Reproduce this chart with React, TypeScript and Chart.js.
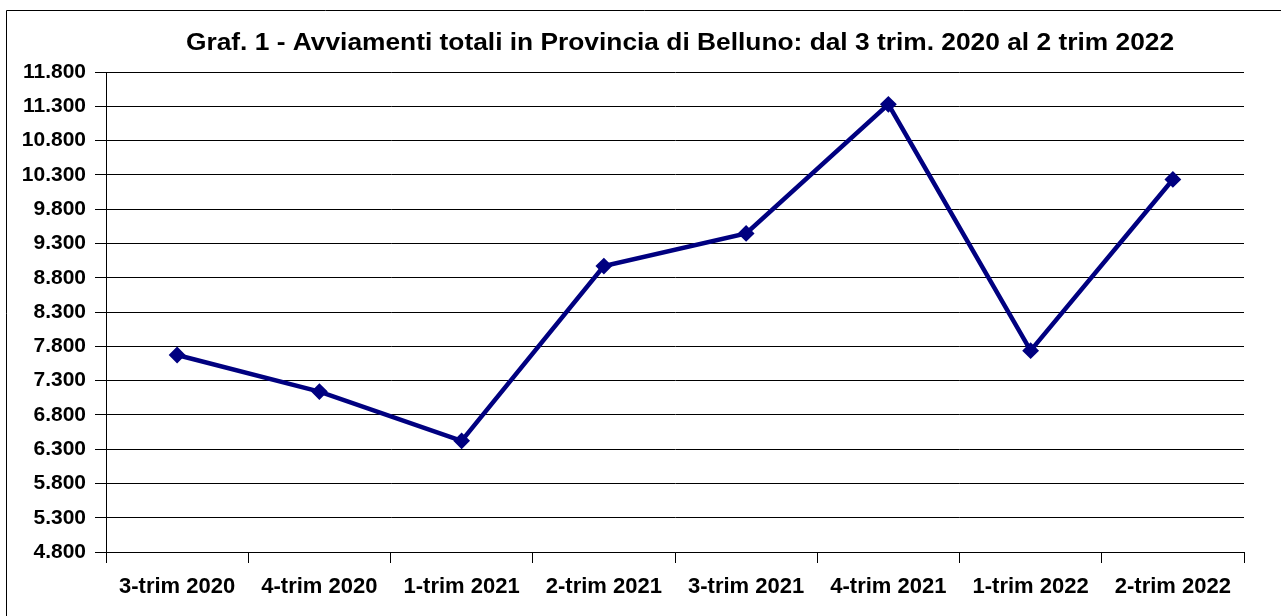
import React, { useEffect, useRef } from "react";
import { Chart, registerables } from "chart.js";

Chart.register(...registerables);

const TITLE = "Graf. 1 - Avviamenti totali in Provincia di Belluno: dal 3 trim. 2020 al 2 trim 2022";
const categories = [
  "3-trim 2020",
  "4-trim 2020",
  "1-trim 2021",
  "2-trim 2021",
  "3-trim 2021",
  "4-trim 2021",
  "1-trim 2022",
  "2-trim 2022",
];
const avviamenti = [7673, 7139, 6421, 8970, 9446, 11329, 7736, 10233];
const Y_MIN = 4800;
const Y_MAX = 11800;
const Y_STEP = 500;

const FONT = "'Liberation Sans', Arial, Helvetica, sans-serif";

function fmt(v: number): string {
  const th = Math.floor(v / 1000);
  const rest = String(Math.round(v % 1000)).padStart(3, "0");
  return th > 0 ? `${th}.${rest}` : String(Math.round(v));
}

const framePlugin = {
  id: "frame",
  afterDraw(chart: any) {
    const ctx = chart.ctx;
    ctx.save();
    ctx.strokeStyle = "#000";
    ctx.lineWidth = 1;
    ctx.beginPath();
    ctx.moveTo(6.5, 700);
    ctx.lineTo(6.5, 10.5);
    ctx.lineTo(1300, 10.5);
    ctx.stroke();
    ctx.fillStyle = "#000";
    ctx.font = `bold 24px ${FONT}`;
    ctx.textAlign = "center";
    ctx.textBaseline = "alphabetic";
    ctx.translate(680, 50);
    ctx.scale(1.097, 1);
    ctx.fillText(TITLE, 0, 0);
    ctx.restore();
  },
};

export default function App() {
  const ref = useRef<HTMLCanvasElement | null>(null);
  useEffect(() => {
    document.body.style.margin = "0";
    document.body.style.overflow = "hidden";
    if (!ref.current) return;
    const chart = new Chart(ref.current, {
      type: "line",
      data: {
        labels: categories,
        datasets: [
          {
            data: avviamenti,
            borderColor: "#000080",
            backgroundColor: "#000080",
            borderWidth: 4.5,
            pointStyle: "rectRot",
            pointRadius: 7,
            pointBorderWidth: 2,
            pointBackgroundColor: "#000080",
            pointBorderColor: "#000080",
            tension: 0,
          },
        ],
      },
      options: {
        animation: false,
        responsive: false,
        maintainAspectRatio: false,
        layout: { padding: { left: 0, top: 72, right: 37, bottom: 0 } },
        plugins: {
          legend: { display: false },
          title: { display: false },
          tooltip: { enabled: false },
        },
        scales: {
          x: {
            type: "category",
            offset: true,
            afterFit: (s: any) => {
              s.height = 64;
            },
            grid: {
              display: true,
              offset: true,
              drawOnChartArea: false,
              drawTicks: true,
              tickLength: 11,
              color: "#000",
              lineWidth: 1,
            },
            border: { display: true, color: "#000", width: 1 },
            ticks: {
              color: "#000",
              font: { family: FONT, size: 22, weight: "bold" },
              padding: 11,
              maxRotation: 0,
              autoSkip: false,
            },
          },
          y: {
            type: "linear",
            min: Y_MIN,
            max: Y_MAX,
            afterFit: (s: any) => {
              s.width = 106;
            },
            grid: {
              color: "#000",
              lineWidth: 1,
              drawTicks: true,
              tickLength: 11,
            },
            border: { display: true, color: "#000", width: 1 },
            ticks: {
              stepSize: Y_STEP,
              color: "#000",
              font: { family: FONT, size: 21, weight: "bold" },
              padding: 9,
              callback: (v: any) => fmt(Number(v)),
            },
          },
        },
      },
      plugins: [framePlugin],
    });
    return () => chart.destroy();
  }, []);
  return (
    <div style={{ position: "fixed", left: 0, top: 0, width: 1281, height: 616, background: "#fff" }}>
      <canvas ref={ref} width={1281} height={616} style={{ width: 1281, height: 616, display: "block" }} />
    </div>
  );
}
